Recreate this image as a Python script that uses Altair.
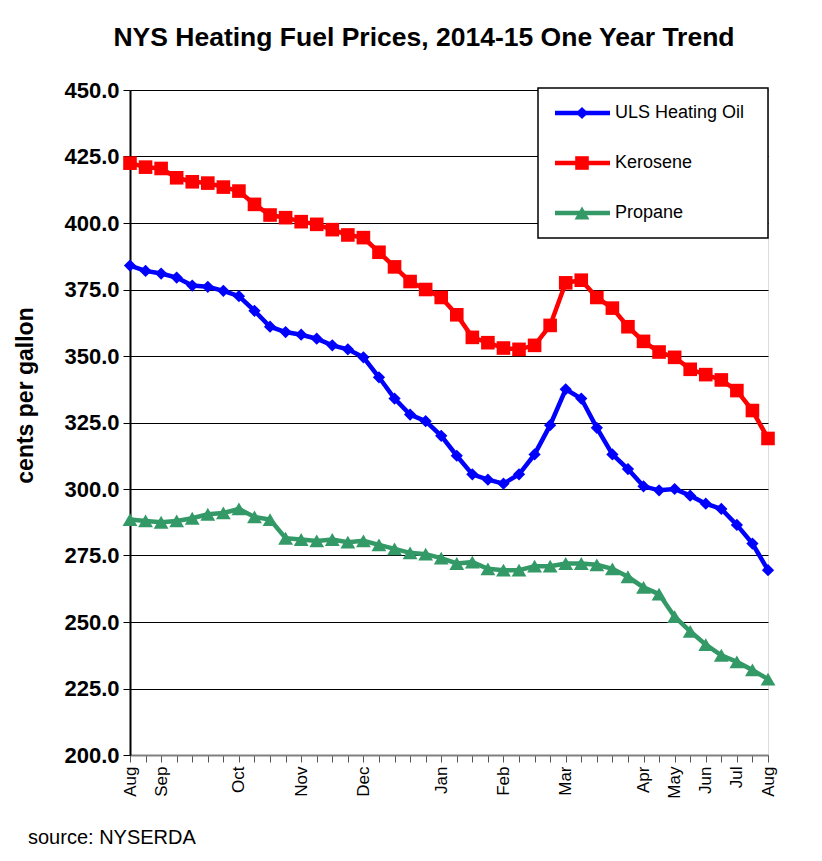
import altair as alt
import pandas as pd

series_names = ["ULS Heating Oil", "Kerosene", "Propane"]
series_colors = ["#0000FF", "#FF0000", "#339966"]
series_shapes = ["diamond", "square", "triangle-up"]

heating_oil = [384, 382, 381, 379.5, 376.5, 376, 374.5, 372.5, 367, 361, 359, 358, 356.5, 354,
               352.5, 349.5, 342, 334, 328, 325.5, 320, 312.5, 305.5, 303.5, 302, 305.5, 313, 324,
               337.5, 334, 323, 313, 307.5, 301, 299.5, 300, 297.5, 294.5, 292.5, 286.5, 279.5, 269.5]
kerosene = [422.5, 421, 420.5, 417, 415.5, 415, 413.5, 412, 407, 403, 402, 400.5, 399.5, 397.5,
            395.5, 394.5, 389, 383.5, 378, 375, 372, 365.5, 357, 355, 353, 352.5, 354, 361.5,
            377.5, 378.5, 372, 368, 361, 355.5, 351.5, 349.5, 345, 343, 341, 337, 329.5, 319]
propane = [288.5, 288, 287.5, 288, 289, 290.5, 291, 292.5, 289.5, 288.5, 281.5, 281, 280.5, 281,
           280, 280.5, 279, 277.5, 276, 275.5, 274, 272, 272.5, 270, 269.5, 269.5, 271, 271,
           272, 272, 271.5, 270, 267, 263, 260.5, 252, 246.5, 241.5, 237.5, 235, 232, 228.5]

month_ticks = {0: "Aug", 2: "Sep", 7: "Oct", 11: "Nov", 15: "Dec", 20: "Jan", 24: "Feb",
               28: "Mar", 33: "Apr", 35: "May", 37: "Jun", 39: "Jul", 41: "Aug"}
n_points = len(kerosene)
tick_labels = [month_ticks.get(i, "") for i in range(n_points)]

rows = []
for name, vals in zip(series_names, [heating_oil, kerosene, propane]):
    for i, v in enumerate(vals):
        rows.append({"idx": i, "series": name, "value": v})
df = pd.DataFrame(rows)

FONT = "Liberation Sans"
W, H = 638, 665

color_scale = alt.Scale(domain=series_names, range=series_colors)
shape_scale = alt.Scale(domain=series_names, range=series_shapes)
size_scale = alt.Scale(domain=series_names, range=[150, 220, 180])

label_expr = "[" + ",".join("'%s'" % t for t in tick_labels) + "][round(datum.value)]"

x_axis = alt.Axis(values=list(range(n_points)), labelExpr=label_expr, title=None,
                  grid=False, labelAngle=270, labelAlign="right", labelBaseline="middle",
                  labelFont=FONT, labelFontSize=17, labelColor="black", labelPadding=4,
                  tickSize=7, tickColor="#555555", domainColor="#808080", domainWidth=2,
                  labelOverlap=False, labelFlush=False, labelBound=False)
y_axis = alt.Axis(values=list(range(200, 451, 25)), format=".1f", title="cents per gallon",
                  titleFont=FONT, titleFontSize=23, titleFontWeight="bold", titleColor="black",
                  titleX=-93, titleY=305, titleAngle=270,
                  labelFont=FONT, labelFontSize=22, labelFontWeight="bold", labelColor="black",
                  labelPadding=4, tickSize=7, tickColor="black", domainColor="black",
                  domainWidth=2, grid=True, gridColor="black", gridWidth=1, gridOpacity=1)
x_scale = alt.Scale(domain=[0, n_points - 1], nice=False, zero=False)
y_scale = alt.Scale(domain=[200, 450], nice=False, zero=False)

x_enc = alt.X("idx:Q", scale=x_scale, axis=x_axis)
y_enc = alt.Y("value:Q", scale=y_scale, axis=y_axis)

base = alt.Chart(df)
lines = base.mark_line(strokeWidth=4.5).encode(
    x=x_enc, y=y_enc,
    color=alt.Color("series:N", scale=color_scale, legend=None),
    detail="series:N",
)
points = base.mark_point(filled=True, opacity=1).encode(
    x=x_enc, y=y_enc,
    color=alt.Color("series:N", scale=color_scale, legend=None),
    shape=alt.Shape("series:N", scale=shape_scale, legend=None),
    size=alt.Size("series:N", scale=size_scale, legend=None),
)
main = alt.layer(lines, points)

# legend
leg_df = pd.DataFrame({"series": series_names, "pos": [0, 1, 2]})
leg_y = alt.Y("pos:Q", scale=alt.Scale(domain=[0, 2], range=[23, 123]), axis=None)
box = alt.Chart(pd.DataFrame({"a": [1]})).mark_rect(fill="white", stroke="black", strokeWidth=1.5).encode(
    x=alt.value(408), x2=alt.value(638), y=alt.value(-2), y2=alt.value(148))
leg_base = alt.Chart(leg_df)
leg_line = leg_base.mark_rule(strokeWidth=4.5).encode(
    x=alt.value(425), x2=alt.value(480), y=leg_y,
    color=alt.Color("series:N", scale=color_scale, legend=None))
leg_pt = leg_base.mark_point(filled=True, opacity=1).encode(
    x=alt.value(452), y=leg_y,
    color=alt.Color("series:N", scale=color_scale, legend=None),
    shape=alt.Shape("series:N", scale=shape_scale, legend=None),
    size=alt.Size("series:N", scale=size_scale, legend=None))
leg_txt = leg_base.mark_text(align="left", baseline="middle", font=FONT, fontSize=18, color="black").encode(
    x=alt.value(485), y=leg_y, text="series:N")
legend_layer = alt.layer(box, leg_line, leg_pt, leg_txt)

source = alt.Chart(pd.DataFrame({"t": ["source: NYSERDA"]})).mark_text(
    align="left", baseline="alphabetic", font=FONT, fontSize=20, color="black").encode(
    x=alt.value(-102), y=alt.value(754), text="t:N")

chart = alt.layer(main, legend_layer, source).resolve_scale(y="independent").properties(
    width=W, height=H,
    title=alt.Title("NYS Heating Fuel Prices, 2014-15 One Year Trend", font=FONT, fontSize=26.5,
                    fontWeight="bold", color="black", anchor="middle", dx=-25, offset=28),
    autosize=alt.AutoSizeParams(type="none"),
    padding={"left": 122, "top": 82, "right": 44, "bottom": 100},
).configure_view(stroke="#808080", strokeWidth=2).configure(background="white")

chart.save("out.html", embed_options={"renderer": "svg", "actions": False})
